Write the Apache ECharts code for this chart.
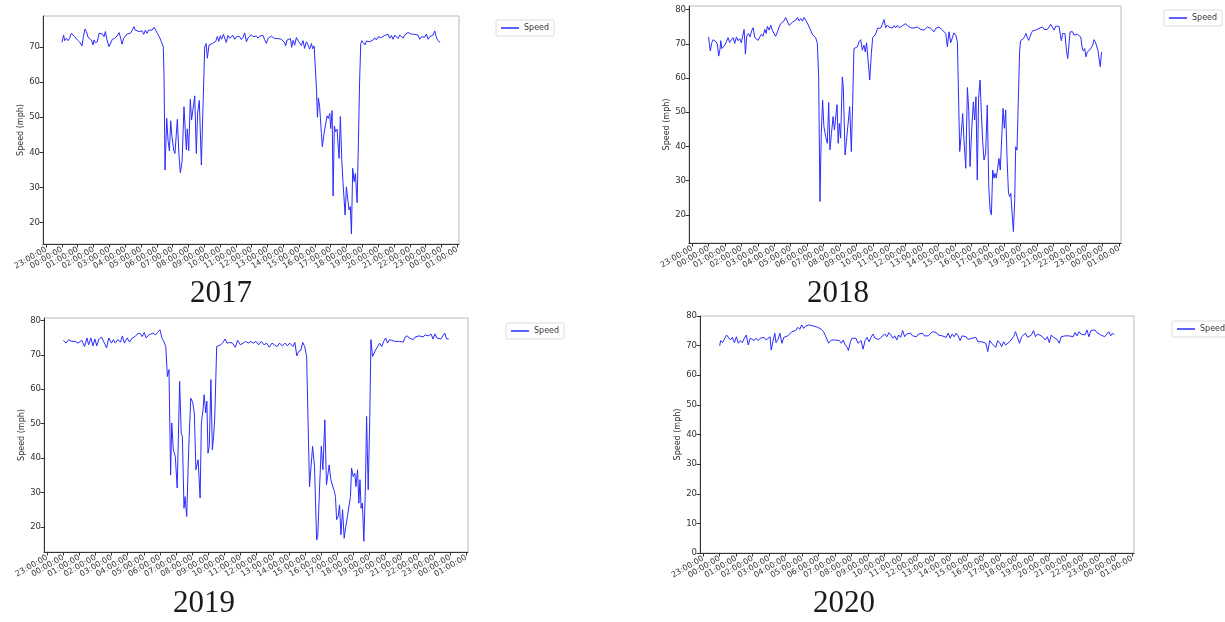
<!DOCTYPE html>
<html><head><meta charset="utf-8">
<script src="https://cdn.jsdelivr.net/npm/echarts@6/dist/echarts.min.js"></script>
<style>html,body{margin:0;padding:0;background:#fff}#c{width:1225px;height:622px}</style>
</head><body><div id="c"></div>
<script>
// ---- tick labels (hours relative to midnight) ----
const tickHours = [-1,0,1,2,3,4,5,6,7,8,9,10,11,12,13,14,15,16,17,18,19,20,21,22,23,24,25];
const tickLabels = ['23:00:00','00:00:00','01:00:00','02:00:00','03:00:00','04:00:00','05:00:00','06:00:00','07:00:00','08:00:00','09:00:00','10:00:00','11:00:00','12:00:00','13:00:00','14:00:00','15:00:00','16:00:00','17:00:00','18:00:00','19:00:00','20:00:00','21:00:00','22:00:00','23:00:00','00:00:00','01:00:00'];
const years = ['2017','2018','2019','2020'];

// ---- 2017 ----
const hours2017 = [0,0.03,0.11,0.17,0.28,0.39,0.49,0.60,0.68,0.81,0.98,1.12,1.27,1.36,1.46,1.55,1.65,1.76,1.86,1.97,2.03,2.11,2.24,2.35,2.46,2.56,2.66,2.75,2.85,2.98,3.08,3.19,3.34,3.48,3.61,3.72,3.80,3.91,4.01,4.12,4.22,4.33,4.43,4.56,4.64,4.75,4.88,4.98,5.07,5.17,5.28,5.38,5.49,5.59,5.70,5.83,5.91,6.04,6.16,6.29,6.41,6.46,6.52,6.63,6.71,6.80,6.88,6.96,7.07,7.15,7.30,7.40,7.49,7.60,7.66,7.72,7.81,7.87,7.93,8.02,8.12,8.20,8.29,8.40,8.50,8.58,8.69,8.82,9.03,9.12,9.20,9.30,9.41,9.52,9.62,9.73,9.83,9.92,10.02,10.10,10.21,10.29,10.40,10.50,10.61,10.72,10.82,10.93,11.03,11.14,11.24,11.35,11.45,11.56,11.67,11.77,11.88,11.98,12.09,12.19,12.30,12.40,12.51,12.61,12.72,12.82,12.93,13.03,13.14,13.24,13.35,13.46,13.56,13.67,13.77,13.88,13.98,14.09,14.15,14.24,14.35,14.45,14.53,14.62,14.72,14.83,14.93,15.04,15.14,15.25,15.35,15.46,15.56,15.67,15.78,15.86,15.95,16.03,16.10,16.16,16.22,16.30,16.41,16.47,16.58,16.68,16.77,16.85,16.94,17.00,17.09,17.15,17.23,17.31,17.40,17.53,17.61,17.70,17.78,17.91,17.99,18.07,18.16,18.24,18.31,18.39,18.48,18.56,18.67,18.75,18.83,18.90,18.98,19.07,19.17,19.26,19.36,19.47,19.57,19.68,19.78,19.89,20.00,20.10,20.20,20.31,20.42,20.52,20.63,20.73,20.84,20.94,21.05,21.15,21.26,21.36,21.47,21.58,21.68,21.79,21.89,22.00,22.10,22.21,22.31,22.42,22.52,22.63,22.73,22.84,22.95,23.05,23.16,23.26,23.37,23.47,23.58,23.66,23.75,23.85,23.92];
const speed2017 = [71.3,71.0,73.4,71.8,72.5,71.8,72.5,73.9,74.1,72.9,72.0,71.4,70.3,73.0,75.1,74.4,72.8,73.1,72.0,70.6,72.0,71.2,71.5,73.9,73.4,73.7,72.9,74.4,72.0,70.1,70.6,72.2,72.5,73.1,74.1,72.5,70.8,72.5,73.1,73.7,73.3,73.9,74.6,75.8,74.8,75.3,74.4,74.1,74.6,73.6,74.8,73.9,74.8,75.0,74.8,75.6,75.3,73.9,72.9,71.5,70.1,61.6,35.0,49.7,43.5,40.4,49.0,44.5,40.7,39.7,49.4,39.5,34.2,37.4,37.5,53.0,53.4,40.7,46.7,40.5,55.1,49.2,49.0,56.1,39.7,51.1,54.8,36.4,70.0,71.0,66.8,70.5,70.0,71.0,71.3,71.6,73.0,71.6,73.2,72.2,73.6,74.1,71.3,73.3,72.5,72.5,73.3,72.2,72.9,72.4,73.0,72.1,72.7,74.0,71.5,72.6,72.1,73.5,72.9,73.0,73.1,72.5,73.1,73.5,73.3,72.1,71.0,72.4,72.9,73.1,72.6,72.4,72.4,72.4,72.3,72.2,72.0,71.2,70.3,72.0,71.5,72.4,69.9,71.9,70.5,72.7,71.8,71.5,70.4,71.8,69.6,71.5,70.6,69.4,71.0,69.5,70.3,69.8,58.0,50.0,55.5,53.0,45.4,41.6,45.4,45.9,50.4,49.7,51.1,46.8,51.9,27.6,47.5,45.9,46.6,38.3,50.2,37.8,31.2,22.2,30.2,30.7,23.6,24.6,16.8,35.5,31.7,34.0,25.7,42.6,60.6,71.0,71.8,71.2,70.6,71.7,71.3,71.5,71.3,72.0,72.6,72.0,72.9,72.4,72.7,73.2,73.3,73.7,73.6,72.5,73.3,72.2,73.4,72.9,72.4,73.4,73.7,72.5,73.4,73.9,74.1,74.4,73.7,73.9,73.6,73.1,73.4,72.2,72.9,72.5,72.8,73.7,72.2,72.9,72.5,73.4,74.6,73.1,72.0,71.5,71.3];

// ---- 2018 ----
const hours2018 = [0,0.04,0.10,0.19,0.27,0.37,0.45,0.53,0.61,0.69,0.74,0.80,0.90,0.98,1.08,1.18,1.28,1.39,1.49,1.59,1.69,1.79,1.89,1.99,2.08,2.16,2.24,2.32,2.42,2.52,2.62,2.71,2.81,2.91,3.01,3.11,3.21,3.31,3.42,3.50,3.58,3.68,3.78,3.88,3.98,4.08,4.19,4.29,4.39,4.49,4.59,4.69,4.79,4.90,5.00,5.10,5.20,5.30,5.41,5.51,5.61,5.71,5.81,5.91,6.01,6.11,6.21,6.32,6.42,6.52,6.62,6.70,6.78,6.86,6.94,7.02,7.13,7.23,7.31,7.39,7.48,7.58,7.66,7.74,7.82,7.89,7.96,8.04,8.14,8.20,8.31,8.39,8.49,8.59,8.69,8.77,8.85,8.96,9.06,9.16,9.26,9.36,9.46,9.54,9.62,9.71,9.81,9.91,9.99,10.07,10.17,10.28,10.38,10.48,10.58,10.68,10.78,10.89,10.99,11.09,11.19,11.29,11.39,11.49,11.60,11.70,11.80,11.90,12.00,12.10,12.20,12.31,12.41,12.51,12.61,12.71,12.81,12.92,13.02,13.12,13.22,13.32,13.42,13.52,13.62,13.73,13.83,13.93,14.03,14.13,14.24,14.34,14.44,14.54,14.64,14.74,14.84,14.94,15.05,15.15,15.23,15.29,15.37,15.47,15.55,15.66,15.76,15.84,15.92,16.02,16.12,16.20,16.28,16.36,16.44,16.53,16.61,16.69,16.77,16.87,16.97,17.06,17.14,17.22,17.30,17.38,17.44,17.52,17.60,17.68,17.76,17.85,17.93,18.01,18.09,18.17,18.26,18.34,18.40,18.48,18.56,18.64,18.70,18.78,18.86,18.94,19.00,19.09,19.17,19.25,19.33,19.41,19.49,19.58,19.66,19.74,19.82,19.92,20.02,20.12,20.22,20.33,20.43,20.53,20.63,20.73,20.83,20.93,21.04,21.14,21.24,21.34,21.42,21.48,21.56,21.64,21.70,21.79,21.87,21.95,22.01,22.09,22.17,22.25,22.35,22.45,22.56,22.66,22.74,22.82,22.90,22.98,23.06,23.14,23.23,23.31,23.39,23.47,23.55,23.63,23.71,23.79,23.85,23.93];
const speed2018 = [72.0,70.1,67.9,70.3,71.2,71.7,70.6,69.9,66.4,68.3,70.9,68.6,68.6,69.6,70.6,71.8,70.4,71.2,71.8,70.1,72.0,70.9,71.5,70.3,70.3,74.2,67.0,72.2,73.0,72.0,73.8,74.7,71.8,71.8,71.0,71.5,72.8,72.2,74.2,73.0,75.1,74.0,75.4,74.0,73.0,72.2,73.5,74.9,75.9,75.6,76.7,77.7,77.4,75.4,75.7,76.3,76.6,76.9,77.7,76.7,77.4,76.6,77.7,77.7,76.1,75.9,74.0,72.7,72.5,71.8,70.1,60.4,23.9,43.8,53.5,45.8,42.8,40.9,52.8,39.0,43.8,48.7,44.8,44.6,52.2,40.9,46.7,42.4,60.3,57.4,37.5,41.4,41.1,51.6,38.5,52.6,68.6,68.6,69.1,70.6,71.2,68.1,69.6,67.6,70.3,70.6,59.4,67.2,71.8,72.2,72.8,74.5,74.7,74.6,75.7,77.1,74.7,75.5,74.9,75.4,74.6,75.3,74.7,75.4,74.7,75.1,75.3,75.6,75.9,75.3,74.9,74.7,74.7,74.6,74.5,74.9,75.3,74.2,74.7,74.0,74.0,74.9,75.1,74.5,74.9,73.5,74.5,74.2,74.9,74.5,74.0,73.8,73.0,69.1,73.5,70.3,70.6,73.2,72.5,70.6,70.1,38.5,42.8,49.6,41.9,33.6,57.2,50.6,34.1,44.8,53.0,47.7,54.5,30.2,54.0,59.4,49.6,41.4,36.0,38.0,52.1,28.2,21.4,20.0,33.1,30.7,32.1,30.7,33.6,36.5,33.1,33.1,51.1,45.3,50.6,37.0,26.3,25.3,26.3,20.5,15.1,24.4,39.9,38.9,53.5,68.1,70.9,71.2,71.5,72.2,73.0,71.8,71.0,72.2,73.2,73.8,73.5,74.0,73.8,74.5,74.3,74.9,74.2,74.5,74.2,74.9,75.7,74.9,74.0,75.2,75.3,75.1,72.5,70.9,73.0,72.5,73.0,68.1,65.7,65.7,73.5,73.0,73.5,72.5,72.0,72.8,72.5,72.0,69.1,67.9,68.6,66.2,67.6,68.1,68.3,68.6,69.6,71.2,70.6,70.1,68.1,65.2,63.3,67.6];

// ---- 2019 ----
const hours2019 = [0,0.17,0.34,0.54,0.73,0.91,1.15,1.32,1.47,1.57,1.71,1.84,1.96,2.08,2.20,2.37,2.55,2.69,2.82,2.99,3.11,3.23,3.38,3.55,3.67,3.79,3.97,4.11,4.28,4.46,4.60,4.75,4.90,5.02,5.14,5.31,5.43,5.56,5.73,5.85,6.00,6.12,6.24,6.36,6.46,6.56,6.66,6.73,6.83,6.95,7.07,7.22,7.32,7.39,7.49,7.56,7.66,7.78,7.91,8.03,8.13,8.23,8.30,8.37,8.49,8.57,8.67,8.74,8.84,8.91,8.98,9.06,9.16,9.25,9.33,9.40,9.52,9.62,9.77,9.91,10.04,10.16,10.33,10.50,10.67,10.82,10.99,11.16,11.31,11.48,11.63,11.80,11.95,12.12,12.29,12.46,12.61,12.78,12.95,13.10,13.27,13.41,13.59,13.76,13.90,14.05,14.25,14.37,14.49,14.61,14.74,14.86,14.98,15.10,15.18,15.28,15.35,15.47,15.59,15.72,15.79,15.91,16.01,16.11,16.23,16.33,16.40,16.50,16.60,16.69,16.82,16.89,16.96,17.06,17.14,17.23,17.33,17.43,17.53,17.63,17.72,17.82,17.89,17.99,18.09,18.16,18.26,18.34,18.41,18.48,18.56,18.65,18.75,18.82,18.92,19.02,19.09,19.19,19.29,19.39,19.51,19.63,19.76,19.88,20.00,20.12,20.24,20.37,20.49,20.61,20.73,20.86,20.98,21.10,21.22,21.35,21.47,21.59,21.71,21.84,21.96,22.08,22.20,22.33,22.45,22.57,22.69,22.82,22.94,23.06,23.18,23.30,23.43,23.55,23.67,23.79,23.92];
const speed2019 = [74.2,73.4,74.4,73.9,73.9,73.4,74.2,72.4,74.9,72.9,74.9,72.6,74.6,72.6,74.4,75.2,73.4,72.0,74.9,73.4,74.4,73.4,74.4,73.7,75.5,73.4,74.9,73.7,74.9,75.3,76.1,76.3,75.3,76.5,74.9,75.8,76.1,76.3,75.8,76.5,77.3,74.9,73.9,72.4,63.7,65.7,35.1,50.2,42.4,40.5,31.3,62.3,47.2,46.3,25.4,28.8,23.0,42.4,57.4,56.2,53.1,36.6,36.8,39.5,28.4,50.2,54.0,58.4,53.1,56.5,41.4,43.4,62.8,42.4,46.3,52.1,72.4,72.0,72.9,73.6,74.6,73.4,73.6,73.4,72.2,74.2,72.9,73.4,73.9,73.4,73.9,73.4,73.9,72.9,73.9,72.9,73.4,72.2,73.4,72.9,72.4,73.4,72.6,73.4,72.6,73.4,72.4,73.6,69.7,71.0,71.3,73.6,72.4,69.5,69.5,31.7,31.7,43.4,37.6,16.2,17.2,32.2,43.4,36.6,51.1,32.2,31.7,38.0,33.7,34.2,30.3,28.8,22.1,23.0,26.4,17.7,25.0,16.7,20.1,23.0,22.5,28.8,37.1,34.6,35.6,31.7,36.6,26.9,33.7,25.4,26.9,15.8,31.7,52.1,30.8,52.1,74.4,69.5,69.0,71.5,71.0,73.4,72.4,73.9,74.9,73.4,74.4,74.2,74.6,73.9,74.2,73.9,74.4,73.7,75.2,75.5,74.9,75.3,74.4,75.2,74.9,75.5,75.3,75.2,75.8,76.3,75.5,76.1,74.6,76.1,74.9,75.3,74.6,75.5,76.3,74.6,74.6];

// ---- 2020 ----
const hours2020 = [0,0.05,0.17,0.29,0.41,0.53,0.65,0.77,0.89,1.01,1.13,1.25,1.37,1.49,1.61,1.73,1.85,1.97,2.09,2.21,2.33,2.45,2.57,2.69,2.81,2.93,3.05,3.12,3.22,3.34,3.41,3.53,3.65,3.77,3.89,4.01,4.13,4.25,4.37,4.49,4.61,4.73,4.85,4.97,5.09,5.21,5.33,5.45,5.57,5.69,5.81,5.93,6.05,6.17,6.29,6.41,6.53,6.60,6.67,6.77,6.89,7.01,7.13,7.25,7.37,7.49,7.61,7.73,7.80,7.92,8.02,8.14,8.26,8.38,8.45,8.57,8.69,8.81,8.93,9.05,9.17,9.29,9.41,9.53,9.65,9.77,9.89,10.01,10.13,10.25,10.37,10.49,10.61,10.73,10.85,10.97,11.09,11.21,11.33,11.45,11.57,11.69,11.81,11.93,12.05,12.17,12.29,12.41,12.53,12.65,12.77,12.89,13.01,13.13,13.25,13.37,13.49,13.61,13.73,13.85,13.97,14.09,14.21,14.33,14.45,14.57,14.69,14.81,14.93,15.05,15.17,15.29,15.41,15.53,15.65,15.77,15.89,16.01,16.13,16.25,16.37,16.49,16.61,16.73,16.85,16.97,17.09,17.21,17.33,17.45,17.57,17.69,17.81,17.93,18.05,18.17,18.30,18.42,18.54,18.66,18.78,18.90,19.02,19.14,19.26,19.38,19.50,19.62,19.74,19.86,19.98,20.10,20.22,20.34,20.46,20.58,20.70,20.82,20.94,21.06,21.18,21.30,21.42,21.54,21.66,21.78,21.90,22.02,22.14,22.26,22.38,22.50,22.62,22.74,22.86,22.98,23.10,23.22,23.34,23.46,23.58,23.70,23.82,23.92];
const speed2020 = [69.9,71.7,71.0,71.3,73.6,73.0,71.9,72.8,71.0,73.0,70.8,71.7,71.0,72.5,73.6,70.2,72.5,73.0,71.7,72.5,71.7,72.5,71.9,72.8,71.9,71.3,73.0,68.5,71.3,74.2,71.0,72.1,74.2,70.8,72.8,72.5,73.3,73.6,74.7,75.3,75.1,76.2,75.5,77.0,75.8,76.6,76.4,77.0,76.6,76.6,77.0,76.2,75.8,75.5,74.7,73.3,73.0,70.8,70.2,71.9,72.1,71.9,72.1,71.7,70.8,71.9,70.2,69.4,68.3,71.3,72.5,71.9,72.5,70.8,71.3,71.7,68.8,71.7,72.8,71.3,72.8,73.9,72.5,73.0,72.1,72.8,73.0,73.9,73.0,74.4,73.6,72.5,73.3,71.9,73.6,72.8,75.1,73.0,73.9,73.3,74.2,73.3,73.9,73.0,73.9,73.3,74.2,73.3,72.8,73.3,73.9,74.7,74.2,74.4,73.6,73.9,73.3,73.9,72.8,74.2,72.5,73.9,73.0,74.2,73.3,71.7,73.3,72.8,73.0,72.1,71.9,72.5,71.9,72.8,71.3,71.9,71.3,71.7,70.8,68.0,71.7,70.8,71.3,69.4,71.7,71.0,69.7,71.3,70.2,69.7,71.3,71.9,73.0,74.7,74.4,70.8,73.0,73.6,74.2,72.8,73.3,73.6,75.1,73.0,73.9,73.9,73.3,73.0,71.9,73.0,71.0,73.6,72.8,73.3,72.1,70.8,73.0,73.6,73.3,73.9,73.3,73.9,73.0,74.4,73.3,74.7,73.9,74.4,73.6,75.3,73.0,75.1,74.7,75.3,74.4,74.7,73.6,74.2,73.0,73.9,74.7,73.3,74.2,73.6];

const allHours = [hours2017, hours2018, hours2019, hours2020];
const allSpeeds = [speed2017, speed2018, speed2019, speed2020];

// ---- layout ----
const grids = [
  {left:43, top:16, width:416, height:228},
  {left:689, top:6, width:432, height:237},
  {left:44, top:318, width:424, height:234},
  {left:700, top:316, width:434, height:237}
];
const yRanges = [[13.94,78.82],[11.75,81.05],[12.7,80.7],[0,80]];
const yTicks = [[20,30,40,50,60,70],[20,30,40,50,60,70,80],[20,30,40,50,60,70,80],[0,10,20,30,40,50,60,70,80]];
const legendPos = [[496,20],[1164,10],[506,323],[1172,321]];
const captionPos = [[221,294],[838,294],[204,604],[844,604]];

const FONT = 'DejaVu Sans';
const AX = '#333';
const option = {
  animation:false,
  backgroundColor:'#fff',
  grid: grids.map(g => Object.assign({show:true, borderColor:'#bbb', borderWidth:1, backgroundColor:'#fff', containLabel:false}, g)),
  xAxis: grids.map((g,i) => ({
    type:'value', gridIndex:i, min:-1.196, max:25.113,
    splitLine:{show:false},
    axisLine:{show:true, onZero:false, lineStyle:{color:AX, width:1}},
    axisTick:{show:true, length:3.5, customValues:tickHours, lineStyle:{color:AX}},
    axisLabel:{show:true, customValues:tickHours, rotate:30, fontSize:8, color:AX, fontFamily:FONT, margin:5,
      formatter: v => tickLabels[tickHours.indexOf(Math.round(v))]}
  })),
  yAxis: grids.map((g,i) => ({
    type:'value', gridIndex:i, min:yRanges[i][0], max:yRanges[i][1],
    name:'Speed (mph)', nameLocation:'middle', nameGap:16, nameRotate:90,
    nameTextStyle:{fontSize:8, color:AX, fontFamily:FONT},
    splitLine:{show:false},
    axisLine:{show:true, onZero:false, lineStyle:{color:AX, width:1}},
    axisTick:{show:true, length:3.5, customValues:yTicks[i], lineStyle:{color:AX}},
    axisLabel:{show:true, customValues:yTicks[i], fontSize:8.5, color:AX, fontFamily:FONT, margin:3}
  })),
  legend: legendPos.map((p,i) => ({
    left:p[0], top:p[1], orient:'vertical', data:[{name:'Speed', icon:'rect'}],
    itemWidth:18, itemHeight:1.5, itemGap:2,
    padding:[4,5,4,5], borderColor:'#ddd', borderWidth:1, borderRadius:2,
    textStyle:{fontSize:8, color:AX, fontFamily:FONT}, selectedMode:false
  })),
  series: allSpeeds.map((s,i) => ({
    type:'line', name:'Speed', xAxisIndex:i, yAxisIndex:i, showSymbol:false, symbol:'none',
    color:'#2b2bff', lineStyle:{color:'#2b2bff', width:1}, smooth:false,
    data: allHours[i].map((h,k) => [h, s[k]])
  })),
  graphic: captionPos.map((p,i) => ({
    type:'text', x:p[0], y:p[1],
    style:{text:years[i], font:'31px "Liberation Serif"', fill:'#1a1a1a', align:'center', verticalAlign:'middle'}
  }))
};
const chart = echarts.init(document.getElementById('c'), null, {renderer:'canvas'});
chart.setOption(option);
</script>
</body></html>
